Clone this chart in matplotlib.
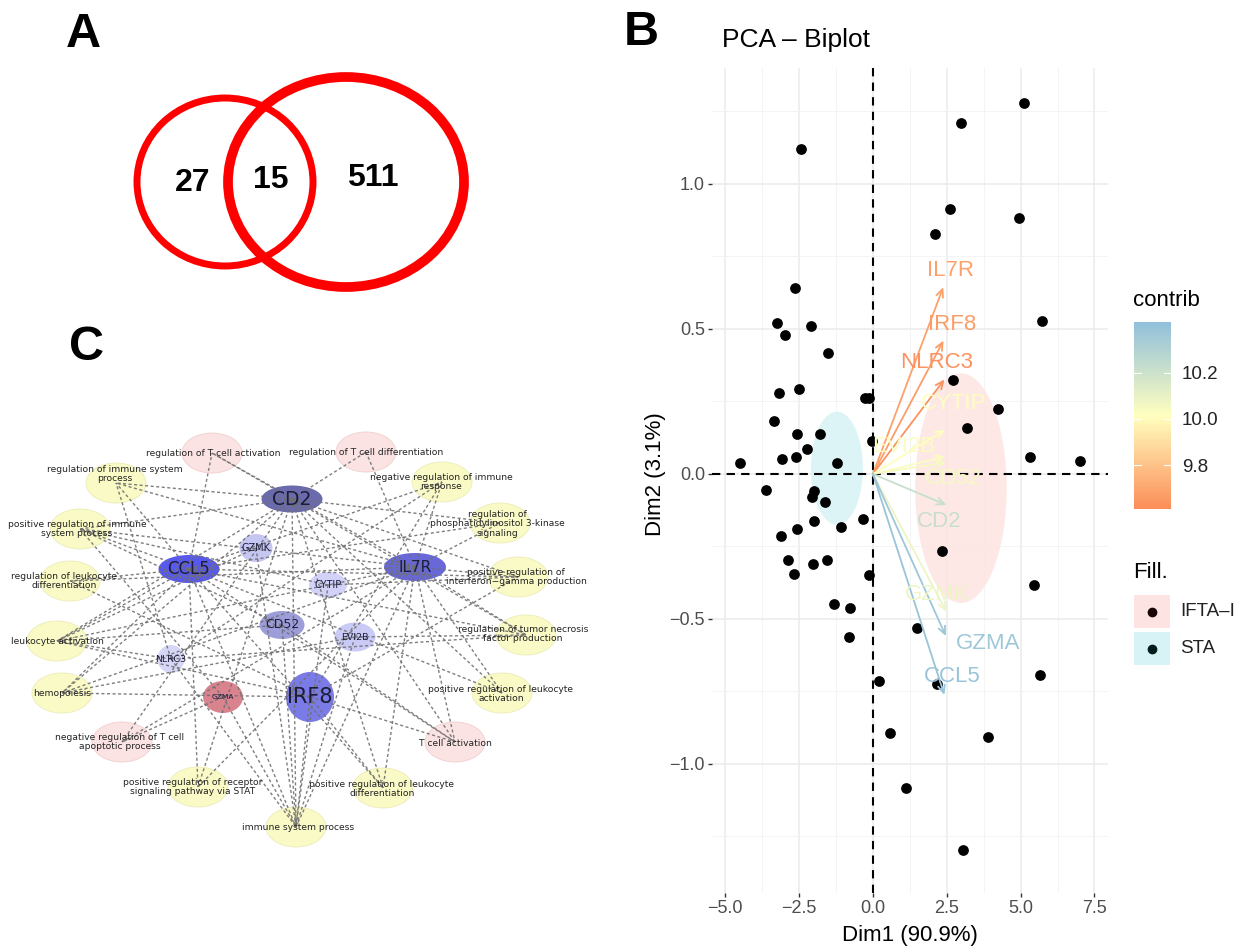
import matplotlib.pyplot as plt
from matplotlib.patches import Ellipse, Rectangle
from matplotlib.colors import LinearSegmentedColormap, Normalize
from matplotlib.cm import ScalarMappable

plt.rcParams['font.family'] = ['Liberation Sans', 'DejaVu Sans']

# ---------------- data ----------------
# Panel A: Venn counts (left only, shared, right only)
venn_counts = ['27', '15', '511']

# Panel B: individuals on the first two dimensions
pc1 = [5.10, 2.97, -2.45, 2.60, 4.93, 2.11, -2.64, -3.24, -2.10, -2.99,
       5.74, -1.53, 2.71, -3.17, -2.51, -0.27, -0.14, 4.23, -3.36, 3.18,
       -2.58, -1.80, -2.22, -0.02, 5.32, -4.51, -3.09, -2.59, -1.23, 7.02,
       -3.62, -2.00, -2.06, -1.64, -1.99, -0.34, -1.08, -2.58, -3.12, 2.33,
       -2.87, -1.57, -2.02, -2.66, -0.14, 5.45, -1.33, -0.78, 1.48, -0.80,
       5.66, 0.20, 2.18, 0.58, 3.90, 1.13, 3.04]
pc2 = [1.278, 1.209, 1.122, 0.915, 0.883, 0.826, 0.640, 0.522, 0.511, 0.479,
       0.529, 0.417, 0.324, 0.280, 0.293, 0.261, 0.261, 0.223, 0.182, 0.159,
       0.139, 0.139, 0.085, 0.113, 0.060, 0.039, 0.050, 0.060, 0.037, 0.044,
       -0.055, -0.059, -0.078, -0.095, -0.161, -0.155, -0.183, -0.191, -0.214, -0.267,
       -0.295, -0.295, -0.310, -0.345, -0.350, -0.384, -0.449, -0.462, -0.530, -0.561,
       -0.693, -0.713, -0.724, -0.894, -0.906, -1.084, -1.297]

# variables (arrows)
var_names = ['IL7R', 'IRF8', 'NLRC3', 'CYTIP', 'EVI2B', 'CD52', 'CD2', 'GZMK', 'GZMA', 'CCL5']
var_x = [2.38, 2.39, 2.42, 2.44, 2.45, 2.47, 2.49, 2.49, 2.47, 2.42]
var_y = [0.644, 0.460, 0.326, 0.152, 0.060, 0.040, -0.107, -0.475, -0.559, -0.762]
var_contrib = [9.68, 9.67, 9.63, 10.02, 10.03, 10.05, 10.22, 10.08, 10.37, 10.39]
# label offsets from the arrow tips (repelled labels)
label_dx = [0.25, 0.28, -0.26, 0.28, -1.40, 0.25, -0.25, -0.33, 1.44, 0.25]
label_dy = [0.056, 0.057, 0.058, 0.092, 0.034, -0.055, -0.057, 0.058, -0.027, 0.063]

# group concentration ellipses
group_names = ['IFTA\u2013I', 'STA']
group_cx = [2.98, -1.22]
group_cy = [-0.049, 0.020]
group_rx = [1.55, 0.88]
group_ry = [0.396, 0.195]
group_fill = ['#fde4e2', '#d8f3f5']
group_dot = ['#1a0606', '#021c1c']

# Panel C: network
term_labels = {
    'rTact': 'regulation of T cell activation',
    'rTdiff': 'regulation of T cell differentiation',
    'rImm': 'regulation of immune system\nprocess',
    'negImm': 'negative regulation of immune\nresponse',
    'pi3k': 'regulation of\nphosphatidylinositol 3-kinase\nsignaling',
    'posImm': 'positive regulation of immune\nsystem process',
    'ifng': 'positive regulation of\ninterferon\u2212gamma production',
    'rLdiff': 'regulation of leukocyte\ndifferentiation',
    'tnf': 'regulation of tumor necrosis\nfactor production',
    'lAct': 'leukocyte activation',
    'posLact': 'positive regulation of leukocyte\nactivation',
    'hemo': 'hemopoiesis',
    'negApop': 'negative regulation of T cell\napoptotic process',
    'tAct': 'T cell activation',
    'stat': 'positive regulation of receptor\nsignaling pathway via STAT',
    'posLdiff': 'positive regulation of leukocyte\ndifferentiation',
    'immProc': 'immune system process',
}
pink_terms = ['rTact', 'rTdiff', 'negApop', 'tAct']
genes = ['CD2', 'CCL5', 'IL7R', 'IRF8', 'GZMK', 'CYTIP', 'CD52', 'EVI2B', 'NLRC3', 'GZMA']
gene_colors = ['#6a6aad', '#5858ee', '#6868d8', '#7b7be8', '#c6c6f2',
               '#d2d2f8', '#9d9dda', '#cacaf6', '#d6d6f7', '#d8838e']
edges = [
    ('CD2', 'rTact'), ('CD2', 'rTdiff'), ('CD2', 'rImm'), ('CD2', 'posImm'), ('CD2', 'lAct'),
    ('CD2', 'hemo'), ('CD2', 'tAct'), ('CD2', 'posLact'), ('CD2', 'immProc'), ('CD2', 'ifng'),
    ('CD2', 'tnf'), ('CD2', 'negApop'), ('CD2', 'stat'), ('CD2', 'posLdiff'), ('CD2', 'pi3k'),
    ('CCL5', 'rTact'), ('CCL5', 'rImm'), ('CCL5', 'posImm'), ('CCL5', 'rLdiff'), ('CCL5', 'lAct'),
    ('CCL5', 'hemo'), ('CCL5', 'ifng'), ('CCL5', 'tnf'), ('CCL5', 'posLact'), ('CCL5', 'tAct'),
    ('CCL5', 'immProc'), ('CCL5', 'stat'), ('CCL5', 'posLdiff'), ('CCL5', 'pi3k'), ('CCL5', 'negImm'),
    ('IL7R', 'rTact'), ('IL7R', 'rTdiff'), ('IL7R', 'rImm'), ('IL7R', 'posImm'), ('IL7R', 'rLdiff'),
    ('IL7R', 'negImm'), ('IL7R', 'pi3k'), ('IL7R', 'ifng'), ('IL7R', 'tnf'), ('IL7R', 'lAct'),
    ('IL7R', 'hemo'), ('IL7R', 'posLact'), ('IL7R', 'tAct'), ('IL7R', 'immProc'), ('IL7R', 'posLdiff'),
    ('IL7R', 'stat'), ('IL7R', 'negApop'),
    ('IRF8', 'hemo'), ('IRF8', 'rLdiff'), ('IRF8', 'immProc'), ('IRF8', 'posLdiff'), ('IRF8', 'tAct'),
    ('IRF8', 'negImm'), ('IRF8', 'ifng'), ('IRF8', 'lAct'),
    ('GZMA', 'immProc'), ('GZMA', 'negApop'), ('GZMA', 'posImm'),
    ('GZMK', 'immProc'), ('GZMK', 'lAct'),
    ('CYTIP', 'immProc'), ('CYTIP', 'posImm'), ('CYTIP', 'ifng'),
    ('CD52', 'immProc'), ('CD52', 'lAct'), ('CD52', 'tAct'), ('CD52', 'posImm'),
    ('EVI2B', 'immProc'), ('EVI2B', 'hemo'), ('EVI2B', 'tnf'),
    ('NLRC3', 'rImm'), ('NLRC3', 'negImm'), ('NLRC3', 'lAct'), ('NLRC3', 'tnf'), ('NLRC3', 'immProc'),
]

# ---------------- layout (pixel positions on the 1249x948 canvas) ----------------
term_xy = {
    'rTact': (212, 453), 'rTdiff': (366, 452), 'rImm': (116, 483), 'negImm': (442, 482),
    'pi3k': (500, 523), 'posImm': (80, 529), 'ifng': (518, 577), 'rLdiff': (70, 581),
    'tnf': (526, 635), 'lAct': (57, 641), 'posLact': (502, 693), 'hemo': (62, 693),
    'negApop': (122, 742), 'tAct': (455, 742), 'stat': (198, 787), 'posLdiff': (383, 788),
    'immProc': (296, 827),
}
term_text_xy = {
    'rTact': (213, 453), 'rTdiff': (366, 452), 'rImm': (115, 474), 'negImm': (441, 482),
    'pi3k': (497, 524), 'posImm': (77, 529), 'ifng': (516, 577), 'rLdiff': (64, 581),
    'tnf': (523, 634), 'lAct': (57, 642), 'posLact': (501, 694), 'hemo': (62, 694),
    'negApop': (120, 742), 'tAct': (455, 743), 'stat': (193, 787), 'posLdiff': (382, 789),
    'immProc': (298, 827),
}
gene_xy = [(292, 499), (189, 569), (415, 567), (310, 697), (256, 548),
           (328, 585), (282, 625), (355, 637), (171, 659), (223, 697)]
gene_wh = [(61, 27), (61, 28), (62, 28), (48, 50), (33, 28),
           (38, 26), (45, 28), (41, 29), (27, 28), (40, 32)]
gene_fs = [13.5, 12, 11, 15, 7, 7, 9, 6.8, 6.8, 5.4]

W, H = 1249, 948
fig = plt.figure(figsize=(W / 100, H / 100), dpi=100)

# overlay axes in pixel coordinates
ax0 = fig.add_axes([0, 0, 1, 1])
ax0.set_xlim(0, W)
ax0.set_ylim(H, 0)
ax0.axis('off')

# panel letters
for letter, (lx, ly) in zip('ABC', [(66, 47), (624, 45), (69, 360)]):
    ax0.text(lx, ly, letter, fontsize=35, fontweight='bold', ha='left', va='baseline')

# --- Panel A: Venn ---
ax0.add_patch(Ellipse((225, 182), 176, 168, fill=False, ec='#ff0000', lw=5))
ax0.add_patch(Ellipse((346, 182), 236, 210, fill=False, ec='#ff0000', lw=7))
for txt, (vx, vy) in zip(venn_counts, [(193, 183), (271, 180), (373, 178)]):
    ax0.text(vx, vy, txt, fontsize=23, fontweight='bold', ha='center', va='center')

# --- Panel C: network ---
for key, (tx, ty) in term_xy.items():
    pink = key in pink_terms
    ax0.add_patch(Ellipse((tx, ty), 60, 40, fc='#fbe3e3' if pink else '#fafac6',
                          ec='#f0cfcf' if pink else '#ececb8', lw=0.6, zorder=1))
for g, (gx, gy), (gw, gh), gc in zip(genes, gene_xy, gene_wh, gene_colors):
    ax0.add_patch(Ellipse((gx, gy), gw, gh, fc=gc, ec='none', zorder=1))

gene_pos = dict(zip(genes, gene_xy))
for g, t in edges:
    x1, y1 = gene_pos[g]
    x2, y2 = term_xy[t]
    ax0.plot([x1, x2], [y1, y2], color='#707070', lw=1.0, ls=(0, (2.2, 1.8)),
             alpha=0.9, zorder=2)

for key, lbl in term_labels.items():
    tx, ty = term_text_xy[key]
    ax0.text(tx, ty, lbl, fontsize=6.6, family='DejaVu Sans', ha='center', va='center',
             color='#222222', linespacing=1.1, zorder=3)
for g, (gx, gy), fs in zip(genes, gene_xy, gene_fs):
    ax0.text(gx, gy, g, fontsize=fs, family='DejaVu Sans', ha='center', va='center',
             color='#1c1c3c', zorder=3)

# --- Panel B: PCA biplot ---
ax = fig.add_axes([712 / W, 1 - 893 / H, 396 / W, 825 / H])
ax.set_xlim(-5.45, 7.96)
ax.set_ylim(-1.445, 1.40)
ax.set_xticks([-5, -2.5, 0, 2.5, 5, 7.5])
ax.set_xticks([-3.75, -1.25, 1.25, 3.75, 6.25], minor=True)
ax.set_yticks([-1, -0.5, 0, 0.5, 1])
ax.set_yticks([-1.25, -0.75, -0.25, 0.25, 0.75, 1.25], minor=True)
ax.set_xticklabels(['\u22125.0', '\u22122.5', '0.0', '2.5', '5.0', '7.5'])
ax.set_yticklabels(['\u22121.0', '\u22120.5', '0.0', '0.5', '1.0'])
ax.grid(which='major', color='#ebebeb', lw=1.1)
ax.grid(which='minor', color='#f2f2f2', lw=0.6)
ax.set_axisbelow(True)
ax.tick_params(which='major', length=3, width=1, color='#333333',
               labelsize=13, labelcolor='#4d4d4d', pad=2)
ax.tick_params(which='minor', length=0)
for s in ax.spines.values():
    s.set_visible(False)

for cx, cy, rx, ry, fc in zip(group_cx, group_cy, group_rx, group_ry, group_fill):
    ax.add_patch(Ellipse((cx, cy), 2 * rx, 2 * ry, fc=fc, ec='none', alpha=0.85, zorder=1))

ax.axhline(0, color='black', lw=1.5, ls=(0, (4, 3)), zorder=2)
ax.axvline(0, color='black', lw=1.5, ls=(0, (4, 3)), zorder=2)

ax.scatter(pc1, pc2, s=60, color='black', lw=0, zorder=3)

cmap = LinearSegmentedColormap.from_list('contrib', ['#FC8D59', '#FFFFBF', '#91BFDB'])
norm = Normalize(vmin=9.61, vmax=10.42)
for name, vx, vy, c, dx, dy in zip(var_names, var_x, var_y, var_contrib, label_dx, label_dy):
    col = cmap(norm(c))
    ax.annotate('', xy=(vx, vy), xytext=(0, 0), zorder=4,
                arrowprops=dict(arrowstyle='->,head_length=0.55,head_width=0.25',
                                color=col, lw=1.3, shrinkA=0, shrinkB=0))
    ax.text(vx + dx, vy + dy, name, color=col, fontsize=16, ha='center', va='center', zorder=5)

fig.text(722 / W, 1 - 40 / H, 'PCA \u2013 Biplot', fontsize=19, ha='left', va='center')
fig.text(910 / W, 1 - 935 / H, 'Dim1 (90.9%)', fontsize=16, ha='center', va='center')
fig.text(655 / W, 1 - 474 / H, 'Dim2 (3.1%)', fontsize=16, ha='center', va='center', rotation=90)

# colorbar legend
cax = fig.add_axes([1134 / W, 1 - 509 / H, 37 / W, 187 / H])
cb = fig.colorbar(ScalarMappable(norm=norm, cmap=cmap), cax=cax)
cb.outline.set_visible(False)
cb.set_ticks([9.8, 10.0, 10.2])
cb.set_ticklabels(['9.8', '10.0', '10.2'])
cax.tick_params(length=0, labelsize=13.5, labelcolor='#222222', pad=8)
for t in [9.8, 10.0, 10.2]:
    cax.plot([0, 0.2], [t, t], color='white', lw=0.8, transform=cax.get_yaxis_transform())
    cax.plot([0.8, 1.0], [t, t], color='white', lw=0.8, transform=cax.get_yaxis_transform())
ax0.text(1133, 300, 'contrib', fontsize=16, ha='left', va='center')

# fill legend
ax0.text(1133, 573, 'Fill.', fontsize=16, ha='left', va='center')
for i, (gname, fc, dc) in enumerate(zip(group_names, group_fill, group_dot)):
    y0 = 595 + i * 37
    ax0.add_patch(Rectangle((1134, y0), 36, 33, fc=fc, ec='none'))
    ax0.plot(1152, y0 + 16.5, 'o', color=dc, ms=6)
    ax0.text(1180, y0 + 16.5, gname, fontsize=13.5, ha='left', va='center', color='#222222')

fig.savefig('out.png', dpi=100)
